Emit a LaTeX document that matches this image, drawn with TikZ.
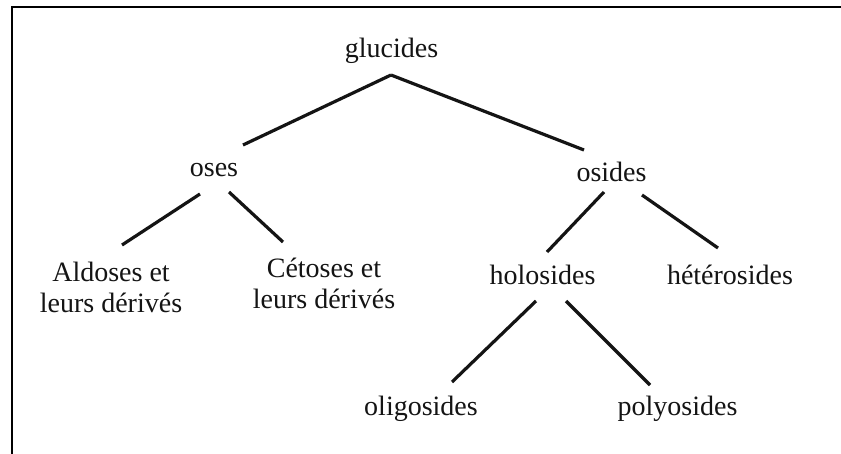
\documentclass[tikz,border=0pt]{standalone}
\usepackage{fontspec}
\setmainfont{Liberation Serif}
\begin{document}
\begin{tikzpicture}[x=1pt,y=-1pt,
  lbl/.style={inner sep=0pt,anchor=base,font=\fontsize{28}{32}\selectfont,text=black!92},
  edge/.style={line width=3.2pt,black!92},
  frameline/.style={line width=2.6pt,black}]
\useasboundingbox (0,0) rectangle (841,454);
\fill[white] (0,0) rectangle (841,454);
\draw[frameline] (841,7) -- (12,7) -- (12,454);
\node[lbl] (glucides) at (391.5,58) {glucides};
\node[lbl] (oses) at (214,177) {oses};
\node[lbl] (osides) at (611.5,182) {osides};
\node[lbl,align=center] (aldoses) at (111,313) {Aldoses et\\leurs dérivés};
\node[lbl,align=center] (cetoses) at (324,309) {Cétoses et\\leurs dérivés};
\node[lbl] (holosides) at (542.5,285) {holosides};
\node[lbl] (heterosides) at (730,285) {hétérosides};
\node[lbl] (oligosides) at (421,415) {oligosides};
\node[lbl] (polyosides) at (677.5,415) {polyosides};
\draw[edge] ([shift={(-0.5,17)}]glucides.base) -- ([shift={(29,-32)}]oses.base);
\draw[edge] ([shift={(-0.5,17)}]glucides.base) -- ([shift={(-27.5,-32)}]osides.base);
\draw[edge] ([shift={(-14,17)}]oses.base) -- ([shift={(11,-68)}]aldoses.base);
\draw[edge] ([shift={(15,15)}]oses.base) -- ([shift={(-41,-67)}]cetoses.base);
\draw[edge] ([shift={(-7.5,10)}]osides.base) -- ([shift={(4.5,-33)}]holosides.base);
\draw[edge] ([shift={(30.5,13)}]osides.base) -- ([shift={(-12,-37)}]heterosides.base);
\draw[edge] ([shift={(-6.5,16)}]holosides.base) -- ([shift={(31,-33)}]oligosides.base);
\draw[edge] ([shift={(23.5,16)}]holosides.base) -- ([shift={(-27.5,-30)}]polyosides.base);
\end{tikzpicture}
\end{document}
